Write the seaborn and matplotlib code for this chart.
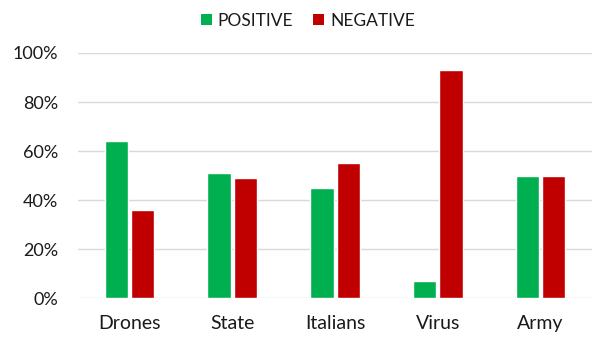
import matplotlib
matplotlib.use("Agg")
import matplotlib.pyplot as plt
from matplotlib.patches import Patch
from matplotlib.ticker import PercentFormatter, MultipleLocator
import pandas as pd
import seaborn as sns

# Share of positive / negative mentions per topic
topics = ["Drones", "State", "Italians", "Virus", "Army"]
positive = [0.64, 0.51, 0.45, 0.07, 0.50]
negative = [0.36, 0.49, 0.55, 0.93, 0.50]
series = ["POSITIVE", "NEGATIVE"]
colors = ["#00B050", "#C00000"]

df = pd.DataFrame({
    "topic": topics * 2,
    "share": positive + negative,
    "sentiment": [series[0]] * len(topics) + [series[1]] * len(topics),
})

sns.set_style("white")
plt.rcParams["font.family"] = ["Lato", "DejaVu Sans"]
plt.rcParams["text.color"] = "#1a1a1a"

fig = plt.figure(figsize=(5.92, 3.38), dpi=100)
ax = fig.add_axes([0.132, 0.1183, 0.868, 0.7249])

sns.barplot(
    data=df, x="topic", y="share", hue="sentiment",
    order=topics, hue_order=series, palette=colors,
    width=0.513, gap=0.115, saturation=1, ax=ax, legend=False,
)

ax.set_ylim(0, 1.0)
ax.yaxis.set_major_locator(MultipleLocator(0.2))
ax.yaxis.set_major_formatter(PercentFormatter(1.0, decimals=0))
ax.grid(axis="y", color="#D9D9D9", linewidth=1.0)
ax.set_axisbelow(True)
for s in ax.spines.values():
    s.set_visible(False)
ax.set_xlabel("")
ax.set_ylabel("")
ax.tick_params(axis="y", length=0, pad=14.5, labelsize=13, labelcolor="#1a1a1a")
ax.tick_params(axis="x", length=0, pad=12, labelsize=14, labelcolor="#1a1a1a")

# Square colour keys for the two series
handles = [Patch(facecolor=c, edgecolor="none") for c in colors]
fig.legend(
    handles, series, loc="center", bbox_to_anchor=(0.520, 0.938),
    ncol=2, frameon=False, fontsize=12.5,
    handlelength=0.62, handleheight=0.62, handletextpad=0.35,
    columnspacing=1.15, borderaxespad=0, borderpad=0,
)

fig.savefig("out.png", dpi=100)
